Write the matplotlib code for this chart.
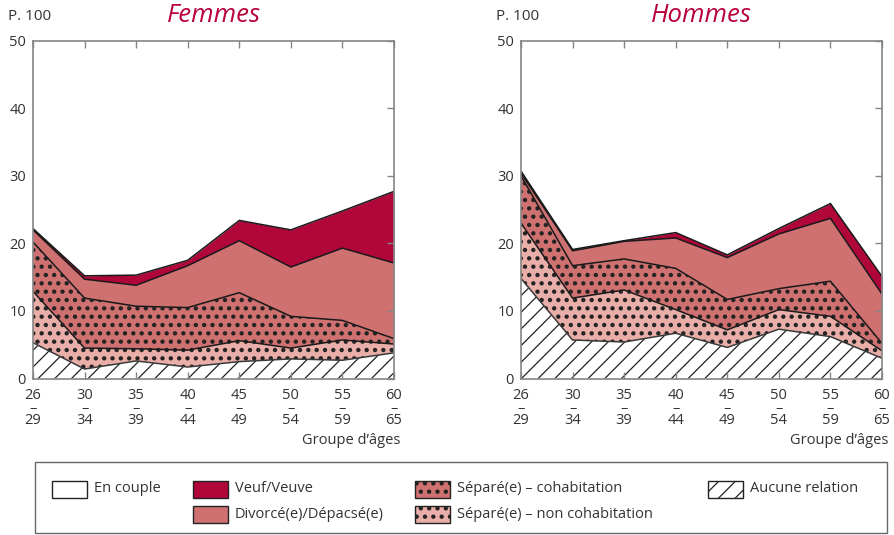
import numpy as np
import matplotlib
matplotlib.use('Agg')
import matplotlib.pyplot as plt
from matplotlib.patches import Rectangle

plt.rcParams['font.family'] = ['Open Sans', 'DejaVu Sans']

# ---------------- data ----------------
age_start = ['26', '30', '35', '40', '45', '50', '55', '60']
age_end = ['29', '34', '39', '44', '49', '54', '59', '65']

# Femmes (p. 100), stacked from bottom
f_aucune = [5.3, 1.4, 2.6, 1.7, 2.5, 2.9, 2.7, 3.8]
f_sep_noncohab = [7.6, 3.1, 1.8, 2.5, 3.1, 1.6, 3.0, 1.3]
f_sep_cohab = [7.3, 7.4, 6.3, 6.3, 7.1, 4.7, 2.9, 0.8]
f_divorce = [1.8, 2.8, 3.1, 6.2, 7.7, 7.3, 10.7, 11.2]
f_veuf = [0.2, 0.5, 1.5, 0.8, 3.0, 5.5, 5.5, 10.6]

# Hommes (p. 100), stacked from bottom
h_aucune = [14.8, 5.7, 5.4, 6.7, 4.6, 7.3, 6.2, 3.0]
h_sep_noncohab = [8.2, 6.2, 7.7, 3.5, 2.6, 2.9, 3.0, 1.1]
h_sep_cohab = [7.0, 4.8, 4.6, 6.1, 4.5, 3.1, 5.2, 1.1]
h_divorce = [0.4, 2.2, 2.6, 4.5, 6.2, 8.1, 9.3, 7.3]
h_veuf = [0.3, 0.2, 0.1, 0.8, 0.4, 0.8, 2.2, 2.6]

titles = ['Femmes', 'Hommes']
legend_labels = ['En couple', 'Veuf/Veuve', 'Divorcé(e)/Dépacsé(e)',
                 'Séparé(e) – cohabitation', 'Séparé(e) – non cohabitation',
                 'Aucune relation']

# ---------------- styles ----------------
C_VEUF = '#b0063a'
C_DIV = '#cf7170'
C_NONCOH = '#e9aea8'
C_TITLE = '#b8003a'
C_TXT = '#333333'
C_SPINE = '#858585'

styles = [  # bottom -> top
    dict(fc='white', hatch='//', hc='#222222', hlw=0.9),   # aucune
    dict(fc=C_NONCOH, hatch='..', hc='#222222', hlw=1.9),  # non cohab
    dict(fc=C_DIV, hatch='..', hc='#222222', hlw=1.9),     # cohab
    dict(fc=C_DIV, hatch=None, hc=C_DIV, hlw=1.0),         # divorce
    dict(fc=C_VEUF, hatch=None, hc=C_VEUF, hlw=1.0),       # veuf
]

W, H = 894, 535
fig = plt.figure(figsize=(W / 100, H / 100), dpi=100)


def fx(px):
    return px / W


def fy(py):
    return 1 - py / H


def set_hlw(artist, lw):
    if hasattr(artist, 'set_hatch_linewidth'):
        try:
            artist.set_hatch_linewidth(lw)
        except Exception:
            pass


y0, y50 = 378.5, 40.7
axes_px = [(33, 394), (521, 882)]
datasets = [
    [f_aucune, f_sep_noncohab, f_sep_cohab, f_divorce, f_veuf],
    [h_aucune, h_sep_noncohab, h_sep_cohab, h_divorce, h_veuf],
]

for (xl, xr), layers, title in zip(axes_px, datasets, titles):
    ax = fig.add_axes([fx(xl), fy(y0), (xr - xl) / W, (y0 - y50) / H])
    x = np.arange(len(age_start))
    bottom = np.zeros(len(x))
    tops = []
    for vals, st in zip(layers, styles):
        top = bottom + np.array(vals)
        plt.rcParams['hatch.linewidth'] = st['hlw']
        coll = ax.fill_between(x, bottom, top, facecolor=st['fc'],
                               edgecolor=st['hc'], hatch=st['hatch'],
                               linewidth=0, zorder=1)
        set_hlw(coll, st['hlw'])
        tops.append(top)
        bottom = top
    # en couple : remainder (white)
    ax.fill_between(x, bottom, 100, facecolor='white', linewidth=0, zorder=1)
    for i, top in enumerate(tops):
        ax.plot(x, top, color='#3a3a3a' if i == 0 else '#1a1a1a',
                lw=1.1, zorder=3, solid_joinstyle='miter')

    ax.set_xlim(0, len(x) - 1)
    ax.set_ylim(0, 50)
    ax.set_yticks(range(0, 51, 10))
    ax.set_xticks(x)
    ax.set_xticklabels([f'{a}\n–\n{b}' for a, b in zip(age_start, age_end)],
                       linespacing=0.78)
    for sp in ax.spines.values():
        sp.set_color(C_SPINE)
        sp.set_linewidth(1.2)
        sp.set_zorder(4)
    ax.tick_params(axis='both', direction='in', color=C_SPINE, width=1.0,
                   labelsize=10.5, labelcolor=C_TXT)
    ax.tick_params(axis='x', top=True, length=5, pad=7)
    ax.tick_params(axis='y', left=False, right=True, length=5, pad=5)
    ax.set_axisbelow(False)

    fig.text(fx((xl + xr) / 2), fy(15), title, color=C_TITLE, fontsize=18.5,
             style='italic', ha='center', va='center')
    fig.text(fx(xl - 25), fy(17), 'P. 100', color=C_TXT, fontsize=11,
             ha='left', va='center')
    fig.text(fx(xr + 6), fy(440), 'Groupe d’âges', color=C_TXT, fontsize=10.5,
             ha='right', va='center')

# ---------------- legend ----------------
fig.patches.append(Rectangle((fx(35), fy(533)), (887 - 35) / W, (533 - 462) / H,
                             transform=fig.transFigure, facecolor='none',
                             edgecolor='#666666', lw=1.0))

leg_items = [
    # (label, box x left, row y center, style)
    (legend_labels[0], 52, 489, dict(fc='white', hatch=None, hlw=1.0)),
    (legend_labels[1], 193, 489, dict(fc=C_VEUF, hatch=None, hlw=1.0)),
    (legend_labels[2], 193, 514, dict(fc=C_DIV, hatch=None, hlw=1.0)),
    (legend_labels[3], 415, 489, dict(fc=C_DIV, hatch='..', hlw=1.9)),
    (legend_labels[4], 415, 514, dict(fc=C_NONCOH, hatch='..', hlw=1.9)),
    (legend_labels[5], 708, 489, dict(fc='white', hatch='//', hlw=0.9)),
]
for lab, bx, cy, st in leg_items:
    plt.rcParams['hatch.linewidth'] = st['hlw']
    r = Rectangle((fx(bx), fy(cy + 8.5)), 35 / W, 17 / H,
                  transform=fig.transFigure, facecolor=st['fc'],
                  edgecolor='#222222', lw=1.0, hatch=st['hatch'])
    set_hlw(r, st['hlw'])
    fig.patches.append(r)
    fig.text(fx(bx + 42), fy(cy), lab, color=C_TXT, fontsize=10.5,
             ha='left', va='center')

fig.savefig('out.png', dpi=100)
